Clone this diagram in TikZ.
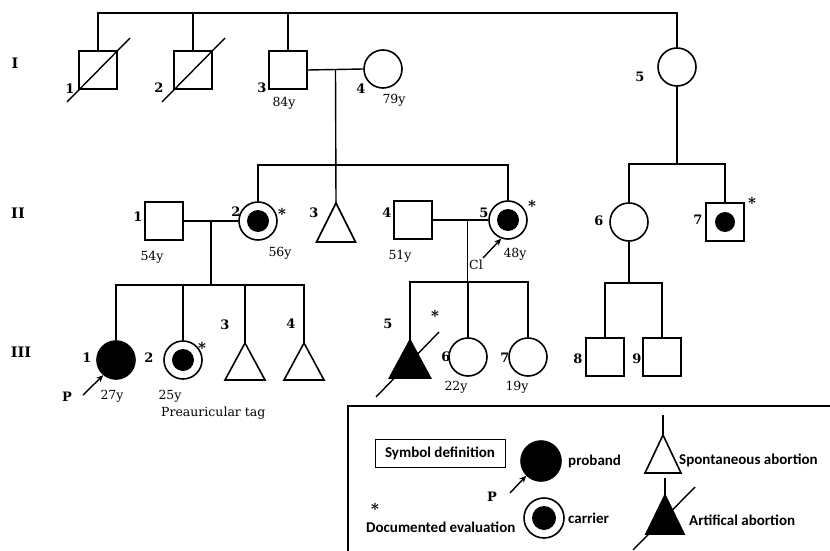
\documentclass[tikz,border=0pt]{standalone}
\usepackage{fontspec}
\setmainfont{DejaVu Serif}
\newfontfamily\legfont{Carlito}
\usetikzlibrary{calc,arrows.meta}
\begin{document}
\begin{tikzpicture}[x=1pt,y=-1pt,
  ped/.style={line width=1.4pt},
  sq/.style={draw, line width=1.6pt, rectangle, minimum size=38pt, inner sep=0pt},
  ci/.style={draw, line width=1.6pt, circle, minimum size=38pt, inner sep=0pt},
  aff/.style={ci, fill=black},
  carrier/.style={ci, path picture={\fill (path picture bounding box.center) circle (11pt);}},
  sqcarrier/.style={sq, path picture={\fill (path picture bounding box.center) circle (10pt);}},
  tri/.style={line width=1.6pt, line join=miter},
  num/.style={font=\fontsize{13}{15}\selectfont\bfseries, inner sep=0pt},
  age/.style={font=\fontsize{12.5}{15}\selectfont, inner sep=0pt},
  gen/.style={font=\fontsize{14.5}{17}\selectfont\bfseries, inner sep=0pt},
  star/.style={font=\fontsize{15}{17}\selectfont\bfseries, inner sep=0pt},
  leg/.style={font=\legfont\fontsize{15}{17}\selectfont\bfseries, inner sep=0pt},
  arr/.style={line width=1.4pt, -{Stealth[length=7pt,width=6pt]}},
  slash/.style={line width=1.4pt}
]
\useasboundingbox (0,0) rectangle (830,551);

% ---------- generation labels
\node[gen] (gI) at (15,63) {I};
\node[gen] (gII) at (18,213) {II};
\node[gen] (gIII) at (21,352) {III};

% ---------- generation I
\node[sq] (I1) at (98,70) {};
\node[sq] (I2) at (193,70) {};
\node[sq] (I3) at (288,70) {};
\node[ci] (I4) at (383,69) {};
\node[ci] (I5) at (677,67) {};
\draw[slash] ($(I1)+(-31,32)$) -- ($(I1)+(32,-32)$);
\draw[slash] ($(I2)+(-31,32)$) -- ($(I2)+(32,-32)$);

\coordinate (topY) at (0,13);
\draw[ped] (I1.north) -- (I1.north |- topY) -- (I5.north |- topY) -- (I5.north);
\draw[ped] (I2.north) -- (I2.north |- topY);
\draw[ped] (I3.north) -- (I3.north |- topY);
\draw[ped] (I3.east) -- (I4.west);
\coordinate (m1) at ($(I3.east)!0.5!(I4.west)$);

\node[num] (nI1) at (70,89) {1};
\node[num] (nI2) at (159,88) {2};
\node[num] (nI3) at (262,88) {3};
\node[num] (nI4) at (361,89) {4};
\node[num] (nI5) at (640,77) {5};
\node[age] (aI3) at (284,103) {84y};
\node[age] (aI4) at (394,100) {79y};

% ---------- generation II
\node[sq] (II1) at (164,221) {};
\node[carrier] (II2) at (258,221) {};
\coordinate (II3) at (336,203);
\draw[tri] (II3) -- ++(-19.5,39) -- ++(39,0) -- cycle;
\node[sq] (II4) at (413,220) {};
\node[carrier] (II5) at (508,220) {};
\node[ci] (II6) at (629,222) {};
\node[sqcarrier] (II7) at (725,222) {};

\coordinate (sibII) at (0,165);
\draw[ped] (m1) -- (II3);
\draw[ped] (II2.north) -- (II2.north |- sibII) -- (II5.north |- sibII) -- (II5.north);
\coordinate (sib6) at (0,164);
\draw[ped] (I5.south) -- (I5.south |- sib6);
\draw[ped] (II6.north) -- (II6.north |- sib6) -- (II7.north |- sib6) -- (II7.north);

\draw[ped] (II1.east) -- (II2.west);
\coordinate (m2) at ($(II1.east)!0.5!(II2.west)$);
\draw[ped] (II4.east) -- (II5.west);
\coordinate (m3) at ($(II4.east)!0.63!(II5.west)$);

\node[num] (nII1) at (138,217) {1};
\node[num] (nII2) at (236,212) {2};
\node[num] (nII3) at (314,213) {3};
\node[num] (nII4) at (387,213) {4};
\node[num] (nII5) at (484,213) {5};
\node[num] (nII6) at (599,221) {6};
\node[num] (nII7) at (698,220) {7};
\node[star] (sII2) at (282,214) {*};
\node[star] (sII5) at (532,206) {*};
\node[star] (sII7) at (752,203) {*};
\node[age] (aII1) at (152,257) {54y};
\node[age] (aII2) at (280,253) {56y};
\node[age] (aII4) at (400,256) {51y};
\node[age] (aII5) at (515,254) {48y};

\coordinate (clA) at (483,258);
\draw[arr] (clA) -- (II5.250);
\node[age] (cl) at (476,265) {Cl};

% ---------- generation III
\node[aff] (III1) at (116,360) {};
\node[carrier] (III2) at (183,360) {};
\coordinate (III3) at (245,343);
\draw[tri] (III3) -- ++(-20,37) -- ++(40,0) -- cycle;
\coordinate (III4) at (304,343);
\draw[tri] (III4) -- ++(-20,37) -- ++(40,0) -- cycle;
\coordinate (III5) at (410,340);
\draw[tri, fill=black] (III5) -- ++(-20.5,38) -- ++(41,0) -- cycle;
\draw[slash] ($(III5)+(-34,57)$) -- ($(III5)+(29,-8)$);
\node[ci] (III6) at (468,357) {};
\node[ci] (III7) at (528,357) {};
\node[sq] (III8) at (605,357) {};
\node[sq] (III9) at (662,357) {};

\coordinate (sibA) at (0,285);
\draw[ped] (m2) -- (m2 |- sibA);
\draw[ped] (III1.north) -- (III1.north |- sibA) -- (III4 |- sibA) -- (III4);
\draw[ped] (III2.north) -- (III2.north |- sibA);
\draw[ped] (III3) -- (III3 |- sibA);

\coordinate (sibB) at (0,282);
\draw[ped] (m3) -- (m3 |- sibB);
\draw[ped] (III5) -- (III5 |- sibB) -- (III7.north |- sibB) -- (III7.north);
\draw[ped] (III6.north) -- (III6.north |- sibB);

\coordinate (sibC) at (0,283);
\draw[ped] (II6.south) -- (II6.south |- sibC);
\draw[ped] (III8.north) -- (III8.north |- sibC) -- (III9.north |- sibC) -- (III9.north);

\node[num] (nIII1) at (87,358) {1};
\node[num] (nIII2) at (149,358) {2};
\node[num] (nIII3) at (225,325) {3};
\node[num] (nIII4) at (291,324) {4};
\node[num] (nIII5) at (388,324) {5};
\node[num] (nIII6) at (446,357) {6};
\node[num] (nIII7) at (505,358) {7};
\node[num] (nIII8) at (578,359) {8};
\node[num] (nIII9) at (637,359) {9};
\node[star] (sIII2) at (202,348) {*};
\node[star] (sIII5) at (435,316) {*};

\node[num] (pIII1) at (67,397) {P};
\coordinate (pA) at (83,395);
\draw[arr] (pA) -- (III1.230);
\node[age] (aIII1) at (112,396) {27y};
\node[age] (aIII2) at (170,396) {25y};
\node[age, anchor=west] (tag) at (161,413) {Preauricular tag};
\node[age] (aIII6) at (456,387) {22y};
\node[age] (aIII7) at (517,387) {19y};

% ---------- legend
\coordinate (boxTR) at (830,406);
\coordinate (boxTL) at (348,406);
\coordinate (boxBL) at (348,551);
\draw[line width=1.8pt] (boxTR) -- (boxTL) -- (boxBL);

\node[draw, line width=0.7pt, minimum width=130pt, minimum height=28pt, leg] (symdef) at (440,453) {Symbol definition};

\node[aff, minimum size=40pt] (LP) at (541,461) {};
\node[leg, anchor=west] (tP) at (568,461) {proband};
\node[num] (pL) at (492,497) {P};
\coordinate (pLA) at (510,493);
\draw[arr] (pLA) -- (LP.225);

\node[ci, minimum size=40pt, path picture={\fill (path picture bounding box.center) circle (12pt);}] (LC) at (544,518) {};
\node[leg, anchor=west] (tC) at (568,518) {carrier};

\node[star] (sL) at (375,509) {*};
\node[leg, anchor=west] (tD) at (366,527) {Documented evaluation};

\coordinate (LS) at (663,435);
\coordinate (LSt) at (663,415);
\draw[tri] (LS) -- ++(-18,38) -- ++(36,0) -- cycle;
\draw[ped] (LSt) -- (LS);
\node[leg, anchor=west] (tS) at (679,460) {Spontaneous abortion};

\coordinate (LA) at (665,495);
\coordinate (LAt) at (665,478);
\draw[tri, fill=black] (LA) -- ++(-19,39) -- ++(38,0) -- cycle;
\draw[ped] (LAt) -- (LA);
\draw[slash] ($(LA)+(-32,55)$) -- ($(LA)+(30,-8)$);
\node[leg, anchor=west] (tA) at (689,520) {Artifical abortion};
\end{tikzpicture}
\end{document}
